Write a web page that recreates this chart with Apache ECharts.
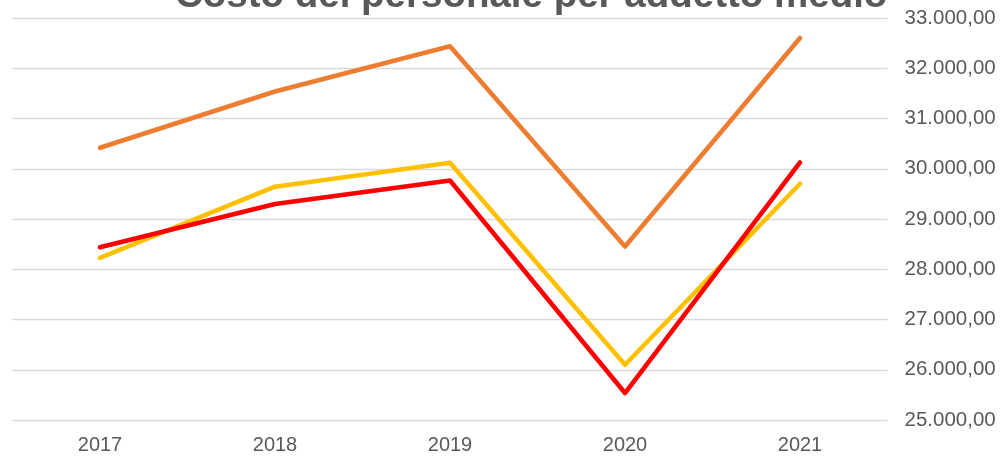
<!DOCTYPE html>
<html>
<head>
<meta charset="utf-8">
<script src="https://cdn.jsdelivr.net/npm/echarts@6/dist/echarts.min.js"></script>
<style>html,body{margin:0;padding:0;background:#fff}#c{width:1002px;height:456px}</style>
</head>
<body>
<div id="c"></div>
<script>
const titleText = 'Costo del personale per addetto medio';
const categories = ['2017', '2018', '2019', '2020', '2021'];
const seriesOrange = [30417, 31537, 32437, 28451, 32604];
const seriesYellow = [28225, 29642, 30119, 26099, 29702];
const seriesRed = [28437, 29298, 29767, 25537, 30125];
const yMin = 25000, yMax = 33000, yStep = 1000;

function fmt(v) {
  const s = Math.round(v).toString().replace(/\B(?=(\d{3})+(?!\d))/g, '.');
  return s + ',00';
}

const chart = echarts.init(document.getElementById('c'), null, {renderer: 'canvas'});
const font = 'Liberation Sans, Arial, sans-serif';
chart.setOption({
  animation: false,
  title: {
    text: titleText, left: 175, top: -23, padding: 0,
    textStyle: {fontFamily: font, fontSize: 38.5, fontWeight: 'bold', color: '#595959'}
  },
  grid: {left: 12.5, right: 114.5, top: 18, bottom: 36, containLabel: false},
  xAxis: {
    type: 'category', data: categories, boundaryGap: true,
    axisLine: {show: false}, axisTick: {show: false},
    axisLabel: {color: '#595959', fontFamily: font, fontSize: 20, margin: 15}
  },
  yAxis: {
    type: 'value', position: 'right', min: yMin, max: yMax, interval: yStep,
    axisLine: {show: false}, axisTick: {show: false},
    splitLine: {lineStyle: {color: '#d9d9d9', width: 1.3}},
    axisLabel: {color: '#595959', fontFamily: font, fontSize: 20.5, margin: 17, padding: [0, 0, 3, 0], formatter: fmt}
  },
  series: [
    {type: 'line', data: seriesOrange, symbol: 'none', lineStyle: {color: '#ED7D31', width: 4.6, cap: 'round', join: 'round'}},
    {type: 'line', data: seriesYellow, symbol: 'none', lineStyle: {color: '#FFC000', width: 4.6, cap: 'round', join: 'round'}},
    {type: 'line', data: seriesRed, symbol: 'none', lineStyle: {color: '#FF0000', width: 4.6, cap: 'round', join: 'round'}}
  ]
});
</script>
</body>
</html>
